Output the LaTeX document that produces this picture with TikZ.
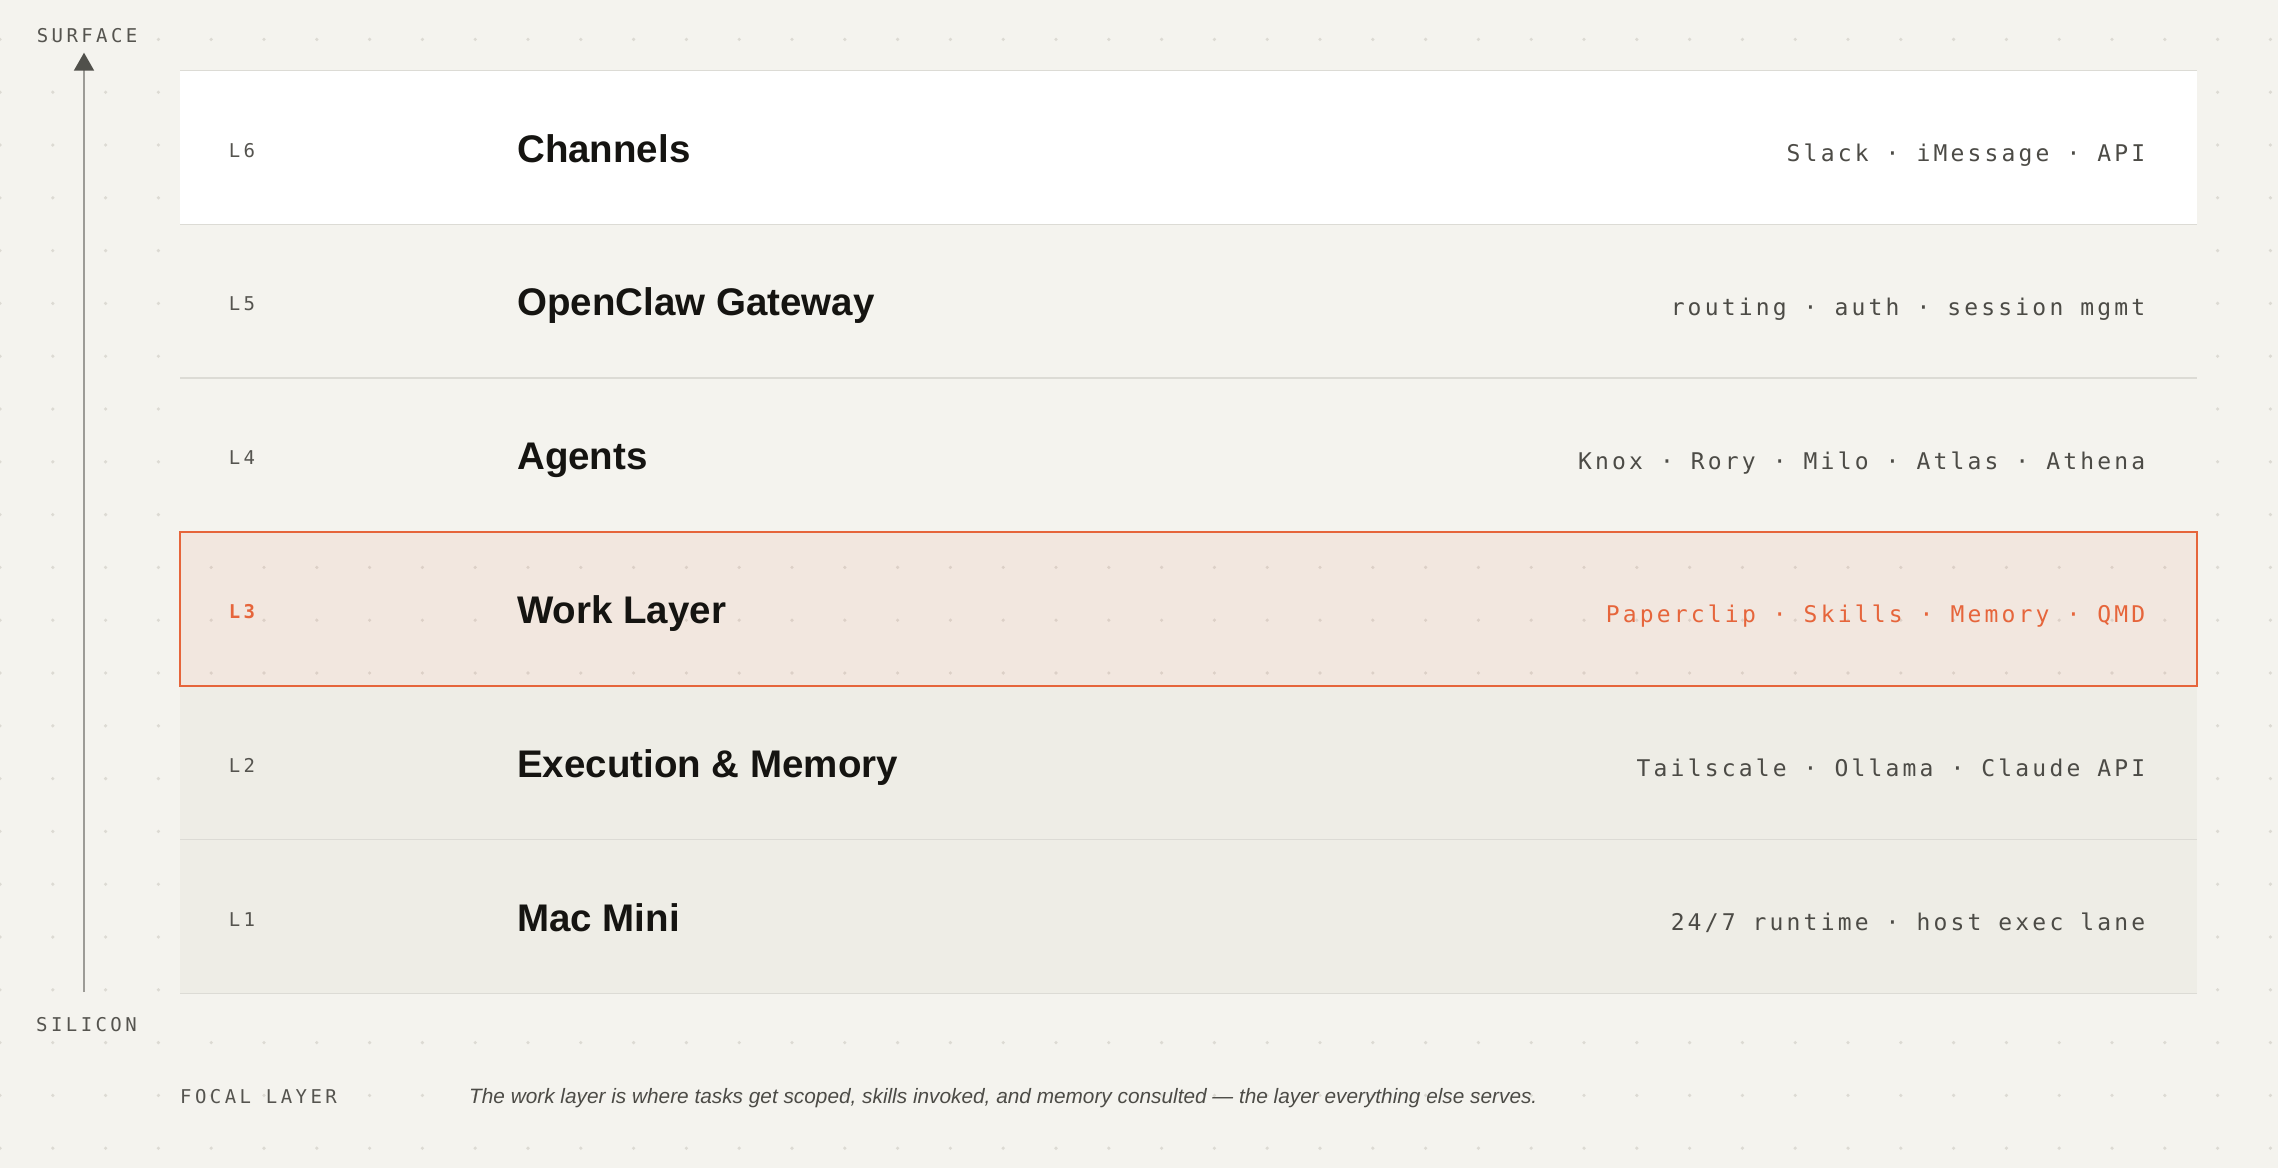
\documentclass[tikz,border=0pt]{standalone}
\usepackage{fontspec}
\setmainfont{Liberation Sans}
\newfontfamily\itemfont{DejaVu Sans Mono}[LetterSpace=13.8]
\newfontfamily\labfont{DejaVu Sans Mono}[LetterSpace=18]
\usetikzlibrary{arrows.meta}
\definecolor{bgc}{HTML}{F4F3EE}
\definecolor{dotc}{HTML}{DCDAD3}
\definecolor{sepc}{HTML}{DCDBD5}
\definecolor{lowc}{HTML}{EEEDE6}
\definecolor{orc}{HTML}{E6653B}
\definecolor{titc}{HTML}{151411}
\definecolor{itmc}{HTML}{4C4B46}
\definecolor{labc}{HTML}{55544F}
\definecolor{linec}{HTML}{9C9B96}
\definecolor{headc}{HTML}{50504B}
\tikzset{
  bandbox/.style={minimum width=2017pt, minimum height=153.8pt, inner sep=0pt, outer sep=0pt, draw=none},
  laytext/.style={inner sep=0pt, anchor=base west, text=labc, font=\labfont\fontsize{19}{22}\selectfont},
  titletext/.style={inner sep=0pt, anchor=base west, text=titc, font=\bfseries\fontsize{38.5}{44}\selectfont},
  itemtext/.style={inner sep=0pt, anchor=base east, text=itmc, font=\itemfont\fontsize{23}{28}\selectfont},
  sepline/.style={draw=sepc, line width=1.6pt},
  axistext/.style={inner sep=0pt, anchor=base west, text=labc, font=\labfont\fontsize{19}{22}\selectfont},
}
\newcommand\mklayer[6]{%
  % #1 id, #2 top, #3 fill, #4 label, #5 title, #6 items
  \node[bandbox, fill=#3] (band#1) at (1188.5, #2+76.9) {};
  \node[laytext] (lab#1) at (228.6, #2+86.5) {#4};
  \node[titletext] (ttl#1) at (517, #2+91.5) {#5};
  \node[itemtext] (itm#1) at (2145.5, #2+91) {#6};
}
\begin{document}
\begin{tikzpicture}[x=1pt,y=-1pt]
\fill[bgc] (0,0) rectangle (2278,1168);
\useasboundingbox (0,0) rectangle (2278,1168);
% dot grid
\foreach \i in {0,...,43} {
  \foreach \j in {0,...,21} {
    \fill[dotc] (\i*52.8, 39.4+\j*52.8) circle[radius=1.8pt];
  }
}
% layers
\mklayer{6}{70.5}{white}{L6}{Channels}{Slack · iMessage · API}
\mklayer{5}{224.3}{bgc}{L5}{OpenClaw Gateway}{routing · auth · session mgmt}
\mklayer{4}{378.1}{bgc}{L4}{Agents}{Knox · Rory · Milo · Atlas · Athena}
\mklayer{2}{685.7}{lowc}{L2}{Execution \& Memory}{Tailscale · Ollama · Claude API}
\mklayer{1}{839.5}{lowc}{L1}{Mac Mini}{24/7 runtime · host exec lane}
% separators
\foreach \yy in {70.5,224.3,378.1,685.7,839.5,993.3} {
  \draw[sepline] (180,\yy) -- (2197,\yy);
}
% focal layer L3
\node[bandbox, fill=orc, fill opacity=0.08, draw=orc, draw opacity=1, line width=2.2pt] (band3) at (1188.5, 608.8) {};
\node[laytext, text=orc, font=\labfont\bfseries\fontsize{19}{22}\selectfont] (lab3) at (228.6, 531.9+86.5) {L3};
\node[titletext] (ttl3) at (517, 531.9+91.5) {Work Layer};
\node[itemtext, text=orc] (itm3) at (2145.5, 531.9+91) {Paperclip · Skills · Memory · QMD};
% axis
\coordinate (abot) at (84,992);
\coordinate (atip) at (84,52.7);
\draw[linec, line width=2pt, -{Triangle[length=18pt, width=20pt, color=headc]}] (abot) -- (atip);
\node[axistext] (surf) at (36.6,42) {SURFACE};
\node[axistext] (sili) at (36,1031) {SILICON};
% footer
\node[axistext] (focal) at (180,1103) {FOCAL LAYER};
\node[inner sep=0pt, anchor=base west, text=itmc, font=\itshape\fontsize{20.8}{24}\selectfont] (cap) at (469,1103) {The work layer is where tasks get scoped, skills invoked, and memory consulted — the layer everything else serves.};
\end{tikzpicture}
\end{document}
